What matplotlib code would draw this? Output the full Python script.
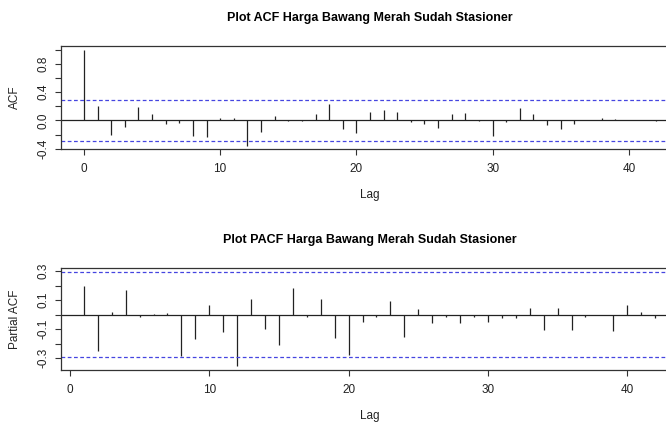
import numpy as np
import matplotlib
matplotlib.use("Agg")
import matplotlib.pyplot as plt

plt.rcParams["font.family"] = ["Liberation Sans", "DejaVu Sans"]

# ACF values, lag 0..42
acf_lags = list(range(0, 43))
acf_vals = [1.0, 0.208, -0.203, -0.095, 0.19, 0.085, -0.05, -0.04, -0.227, -0.24,
            0.038, 0.038, -0.365, -0.17, 0.07, -0.005, -0.005, 0.095, 0.236, -0.123,
            -0.175, 0.113, 0.151, 0.123, -0.02, -0.057, -0.1, 0.095, 0.104, -0.005,
            -0.227, -0.015, 0.17, 0.095, -0.066, -0.118, -0.047, 0.01, 0.028, 0.02,
            0.008, 0.003, -0.003]

# PACF values, lag 1..42
pacf_lags = list(range(1, 43))
pacf_vals = [0.2, -0.252, 0.018, 0.168, -0.02, 0.007, 0.009, -0.289, -0.168, 0.064,
             -0.123, -0.357, 0.105, -0.098, -0.207, 0.186, -0.014, 0.111, -0.159, -0.282,
             -0.048, -0.016, 0.091, -0.152, 0.039, -0.055, -0.014, -0.059, -0.016, -0.05,
             -0.027, -0.027, 0.048, -0.107, 0.048, -0.109, -0.014, -0.004, -0.114, 0.068,
             0.018, -0.025]

n_obs = 44
ci = 1.96 / np.sqrt(n_obs)

acf_title = "Plot ACF Harga Bawang Merah Sudah Stasioner"
pacf_title = "Plot PACF Harga Bawang Merah Sudah Stasioner"
x_ticks = [0, 10, 20, 30, 40]

W, H = 666, 423
fig = plt.figure(figsize=(W / 100, H / 100), dpi=100)


def px_axes(left, right, top, bottom):
    return fig.add_axes([left / W, 1 - bottom / H, (right - left) / W, (bottom - top) / H])


def r_style(ax, yticks, ylabels, ylabel):
    dark = "#333333"
    for s in ax.spines.values():
        s.set_color(dark)
        s.set_linewidth(0.9)
    ax.set_xticks(x_ticks)
    ax.set_yticks(yticks)
    ax.set_yticklabels(ylabels, rotation=90, va="center")
    ax.tick_params(direction="out", length=4, width=0.8, color=dark,
                   labelsize=8.5, labelcolor="#222222", pad=6)
    ax.tick_params(axis="y", pad=4)
    ax.set_xlabel("Lag", fontsize=8.5, color="#222222", labelpad=10)
    ax.set_ylabel(ylabel, fontsize=8.5, color="#222222", labelpad=12)


def spikes(ax, lags, vals, ylim, xlim):
    ax.vlines(lags, 0, vals, colors="#222222", linewidth=0.9)
    ax.axhline(0, color="#222222", linewidth=0.9)
    for y in (ci, -ci):
        ax.axhline(y, color="#4545e0", linewidth=0.9, linestyle=(0, (3, 2)))
    ax.set_xlim(*xlim)
    ax.set_ylim(*ylim)


# ACF panel
ax1 = px_axes(61, 679, 46, 149)
spikes(ax1, acf_lags, acf_vals, (-0.404, 1.054), (-1.68, 43.68))
acf_ticks = [-0.4, -0.2, 0.0, 0.2, 0.4, 0.6, 0.8, 1.0]
r_style(ax1, acf_ticks, ["-0.4", "", "0.0", "", "0.4", "", "0.8", ""], "ACF")
ax1.set_title(acf_title, fontsize=9, fontweight="bold", pad=18)

# PACF panel
ax2 = px_axes(61, 678, 268, 370)
spikes(ax2, pacf_lags, pacf_vals, (-0.383, 0.322), (-0.64, 43.64))
pacf_ticks = [-0.3, -0.2, -0.1, 0.0, 0.1, 0.2, 0.3]
r_style(ax2, pacf_ticks, ["-0.3", "", "-0.1", "", "0.1", "", "0.3"], "Partial ACF")
ax2.set_title(pacf_title, fontsize=9, fontweight="bold", pad=18)

fig.savefig("out.png", dpi=100)
